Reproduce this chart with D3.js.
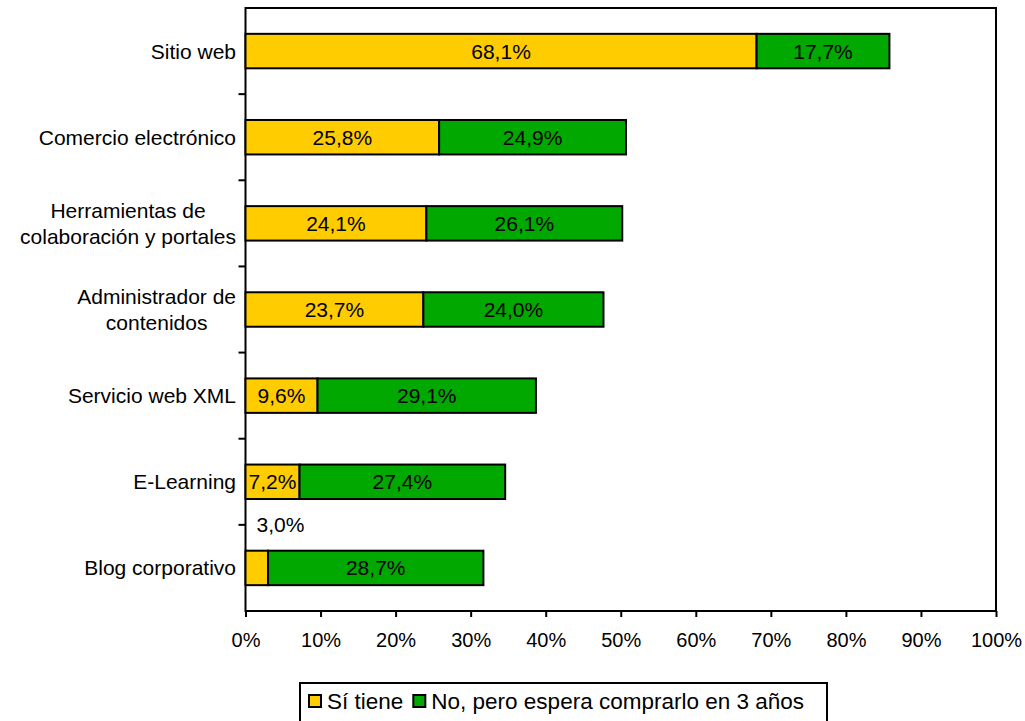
<!DOCTYPE html>
<html>
<head>
<meta charset="utf-8">
<script src="https://cdn.jsdelivr.net/npm/d3@7"></script>
<style>
  body { margin: 0; background: #fff; }
  svg { display: block; font-family: "Liberation Sans", Arial, sans-serif; }
</style>
</head>
<body>
<svg id="chart" width="1025" height="721"></svg>
<script>
// Technology adoption by category (percent of companies)
const categories = [
  ["Sitio web"],
  ["Comercio electrónico"],
  ["Herramientas de", "colaboración y portales"],
  ["Administrador de", "contenidos"],
  ["Servicio web XML"],
  ["E-Learning"],
  ["Blog corporativo"]
];
const siTiene = [68.1, 25.8, 24.1, 23.7, 9.6, 7.2, 3.0];
const noEspera = [17.7, 24.9, 26.1, 24.0, 29.1, 27.4, 28.7];
const seriesNames = ["Sí tiene", "No, pero espera comprarlo en 3 años"];
const seriesColors = ["#FFCC00", "#00A800"];
const xTicks = [0, 10, 20, 30, 40, 50, 60, 70, 80, 90, 100];

const svg = d3.select("#chart");
const plot = { left: 245.5, top: 8, right: 996, bottom: 611 };
const fmt = v => v.toFixed(1).replace(".", ",") + "%";
const FS = 21;

const x = d3.scaleLinear().domain([0, 100]).range([plot.left, plot.right]);
const y = d3.scaleBand()
  .domain(d3.range(categories.length))
  .range([plot.top, plot.bottom])
  .paddingInner(0.6)
  .paddingOuter(0.3);

const rows = categories.map((c, i) => ({ i, si: siTiene[i], no: noEspera[i] }));

// Plot frame
svg.append("rect")
  .attr("x", plot.left).attr("y", plot.top)
  .attr("width", plot.right - plot.left).attr("height", plot.bottom - plot.top)
  .attr("fill", "none").attr("stroke", "#000").attr("stroke-width", 2);

// Bars
const g = svg.append("g");
rows.forEach(r => {
  const segs = [
    { x0: 0, x1: r.si, v: r.si, c: seriesColors[0] },
    { x0: r.si, x1: r.si + r.no, v: r.no, c: seriesColors[1] }
  ];
  segs.forEach(s => {
    g.append("rect")
      .attr("x", x(s.x0)).attr("y", y(r.i))
      .attr("width", x(s.x1) - x(s.x0)).attr("height", y.bandwidth())
      .attr("fill", s.c).attr("stroke", "#000").attr("stroke-width", 2);
    const narrow = x(s.x1) - x(s.x0) < 30;
    g.append("text")
      .attr("x", narrow ? x(s.x0) + 11 : (x(s.x0) + x(s.x1)) / 2)
      .attr("y", narrow ? y(r.i) - 26 : y(r.i) + y.bandwidth() / 2)
      .attr("dy", "0.36em")
      .attr("text-anchor", narrow ? "start" : "middle")
      .attr("font-size", FS)
      .attr("fill", "#000")
      .text(fmt(s.v));
  });
});

// X axis
const xAxis = svg.append("g")
  .attr("transform", `translate(0,${plot.bottom})`)
  .call(d3.axisBottom(x).tickValues(xTicks).tickSize(6).tickPadding(16).tickFormat(d => d + "%"));
xAxis.select(".domain").remove();
xAxis.selectAll(".tick line").attr("stroke", "#000").attr("stroke-width", 2);
xAxis.selectAll(".tick text").attr("font-size", 20).attr("font-family", "Liberation Sans, Arial, sans-serif").attr("fill", "#000");

// Y axis ticks at category boundaries
const step = y.step();
const boundaries = d3.range(1, categories.length).map(k => plot.top + k * step);
svg.append("g").selectAll("line").data(boundaries).join("line")
  .attr("x1", plot.left - 7).attr("x2", plot.left)
  .attr("y1", d => d).attr("y2", d => d)
  .attr("stroke", "#000").attr("stroke-width", 2);

// Category labels
const labelRight = 236;
const lineH = 26;
categories.forEach((lines, i) => {
  const cy = y(i) + y.bandwidth() / 2;
  const t = svg.append("text")
    .attr("font-size", FS).attr("fill", "#000").attr("text-anchor", "middle");
  lines.forEach((ln, k) => {
    t.append("tspan")
      .attr("y", cy + (k - (lines.length - 1) / 2) * lineH)
      .attr("dy", "0.36em")
      .text(ln);
  });
  let maxW = 0;
  t.selectAll("tspan").each(function () { maxW = Math.max(maxW, this.getComputedTextLength()); });
  t.selectAll("tspan").attr("x", labelRight - maxW / 2);
});

// Legend
const legend = svg.append("g");
const lx = 300, ly = 683, lw = 527, lh = 40;
legend.append("rect")
  .attr("x", lx).attr("y", ly).attr("width", lw).attr("height", lh)
  .attr("fill", "#fff").attr("stroke", "#000").attr("stroke-width", 2);
let cursor = lx + 9;
seriesNames.forEach((name, k) => {
  legend.append("rect")
    .attr("x", cursor).attr("y", ly + 12).attr("width", 12).attr("height", 12)
    .attr("fill", seriesColors[k]).attr("stroke", "#000").attr("stroke-width", 2);
  const tx = legend.append("text")
    .attr("x", cursor + 18).attr("y", ly + 18).attr("dy", "0.36em")
    .attr("font-size", 22.5).attr("fill", "#000").text(name);
  cursor += 18 + tx.node().getComputedTextLength() + 10;
});
</script>
</body>
</html>
